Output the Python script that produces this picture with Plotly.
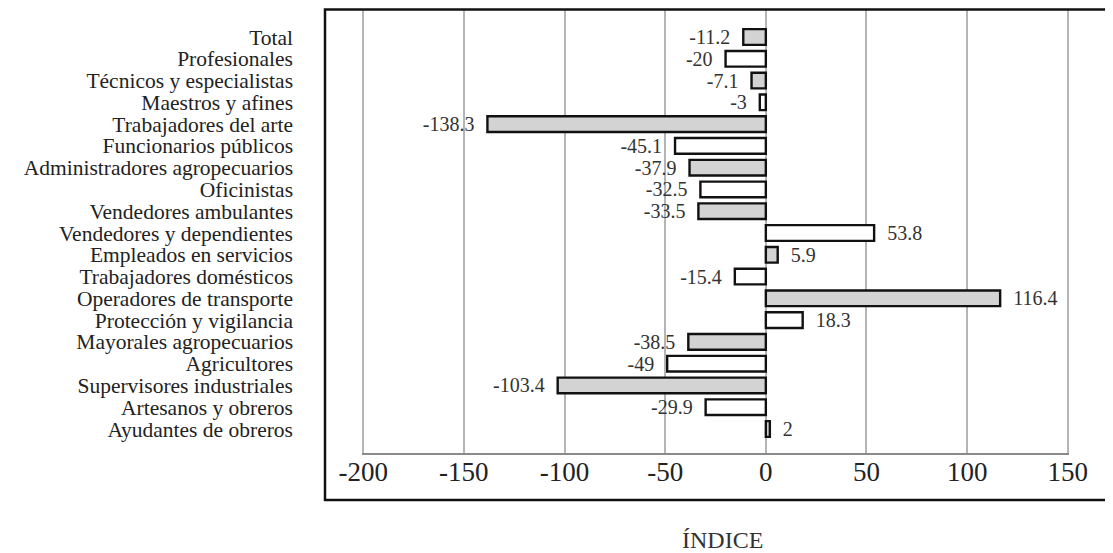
import plotly.graph_objects as go

categories = [
    "Total", "Profesionales", "Técnicos y especialistas", "Maestros y afines",
    "Trabajadores del arte", "Funcionarios públicos", "Administradores agropecuarios",
    "Oficinistas", "Vendedores ambulantes", "Vendedores y dependientes",
    "Empleados en servicios", "Trabajadores domésticos", "Operadores de transporte",
    "Protección y vigilancia", "Mayorales agropecuarios", "Agricultores",
    "Supervisores industriales", "Artesanos y obreros", "Ayudantes de obreros",
]
values = [-11.2, -20, -7.1, -3, -138.3, -45.1, -37.9, -32.5, -33.5, 53.8,
          5.9, -15.4, 116.4, 18.3, -38.5, -49, -103.4, -29.9, 2]
tick_vals = [-200, -150, -100, -50, 0, 50, 100, 150]
tick_text = ["-200", "-150", "-100", "-50", "0", "50", "100", "150"]
x_title = "ÍNDICE"

fills = ["#d3d3d3" if i % 2 == 0 else "#ffffff" for i in range(len(values))]
NB = "\u00a0\u00a0"
labels = [("%g" % v) + NB if v < 0 else NB + ("%g" % v) for v in values]

# page body has an 8px margin; figure coordinates below are page coords - 8
OFF = 8
W, H = 1113 - OFF, 553 - OFF
px0, px1 = 362 - OFF, 1069 - OFF   # x pixel of -200 and 150
py0, py1 = 10 - OFF, 453 - OFF     # top / bottom of plot area
FONT = "Liberation Serif, Times New Roman, serif"

fig = go.Figure(go.Bar(
    y=categories, x=values, orientation="h",
    marker=dict(color=fills, line=dict(color="#111111", width=2.4)),
    text=labels, textposition="outside", constraintext="none",
    textfont=dict(family=FONT, size=20, color="#333333"),
    cliponaxis=False,
))

def pxx(p):
    return (p - OFF - px0) / (px1 - px0)

def pxy(p):
    return (py1 - (p - OFF)) / (py1 - py0)

fig.add_shape(type="rect", xref="paper", yref="paper",
              x0=pxx(325), x1=pxx(1130), y0=pxy(500), y1=pxy(9.5),
              line=dict(color="#111111", width=2.5), layer="above")

fig.add_annotation(text=x_title, xref="paper", yref="paper",
                   x=pxx(722), y=pxy(540), showarrow=False,
                   xanchor="center", yanchor="middle",
                   font=dict(family=FONT, size=24, color="#333333"))

n = len(categories)
c_first, c_last = 37 - OFF, 429 - OFF
sp = (c_last - c_first) / (n - 1)
r_top = -(c_first - py0) / sp
r_bot = (n - 1) + (py1 - c_last) / sp

fig.update_layout(
    width=W, height=H,
    margin=dict(l=px0, r=W - px1, t=py0, b=H - py1),
    paper_bgcolor="white", plot_bgcolor="white",
    bargap=0.28, showlegend=False,
    font=dict(family=FONT, color="#222222"),
    xaxis=dict(range=[-200.6, 150.6], tickmode="array", tickvals=tick_vals,
               ticktext=tick_text,
               showgrid=True, gridcolor="#b5b5b5", gridwidth=2,
               zeroline=False, showline=True, linecolor="#8a8a8a", linewidth=1.5,
               tickfont=dict(family=FONT, size=27, color="#222222"),
               ticks="", ticklabelstandoff=-6),
    yaxis=dict(type="category", range=[r_bot, r_top], showgrid=False,
               tickmode="array", tickvals=categories, ticktext=categories,
               zeroline=False, showline=False, ticks="",
               tickfont=dict(family=FONT, size=21.5, color="#222222"),
               ticklabelstandoff=68),
)

fig.write_html("out.html")
